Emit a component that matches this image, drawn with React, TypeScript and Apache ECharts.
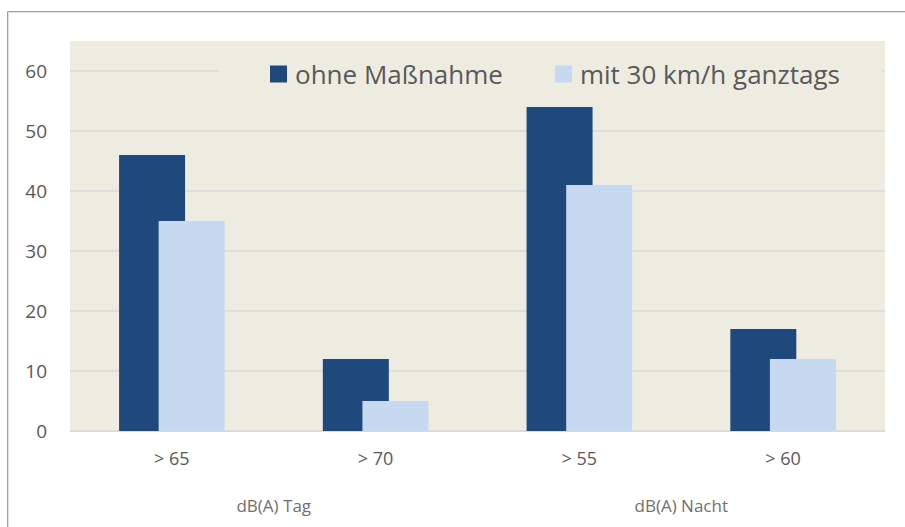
import React, { useEffect, useRef } from "react";
import * as echarts from "echarts";

const categories = ["> 65", "> 70", "> 55", "> 60"];
const groups = ["dB(A) Tag", "dB(A) Nacht"];
const ohneMassnahme = [46, 12, 54, 17];
const mit30 = [35, 5, 41, 12];
const seriesNames = ["ohne Maßnahme", "mit 30 km/h ganztags"];

const FONT = "'Open Sans', sans-serif";

export default function App() {
  const ref = useRef<HTMLDivElement>(null);
  useEffect(() => {
    if (!ref.current) return;
    const chart = echarts.init(ref.current, undefined, { renderer: "svg" });
    chart.setOption({
      animation: false,
      backgroundColor: "#ffffff",
      textStyle: { fontFamily: FONT },
      grid: { left: 70, right: 20, top: 71, bottom: 96 },
      graphic: [
        {
          type: "rect",
          z: -10,
          silent: true,
          shape: { x: 70, y: 41, width: 815, height: 390 },
          style: { fill: "#EEECE1" },
        },
        {
          type: "rect",
          z: -10,
          silent: true,
          shape: { x: 7.5, y: 11.5, width: 1000, height: 1000 },
          style: { fill: "none", stroke: "#a0a0a0", lineWidth: 1 },
        },
        {
          type: "rect",
          z: -10,
          silent: true,
          shape: { x: 8.5, y: 12.5, width: 1000, height: 1000 },
          style: { fill: "none", stroke: "#e0e0e0", lineWidth: 1 },
        },
      ],
      legend: {
        left: 219,
        top: 51,
        padding: [8, 42, 8, 51],
        backgroundColor: "#EEECE1",
        itemWidth: 17,
        itemHeight: 17,
        itemGap: 52,
        icon: "rect",
        textStyle: {
          fontFamily: FONT,
          fontSize: 26,
          color: "#595959",
          lineHeight: 30,
          padding: [0, 0, 0, 3],
        },
        data: seriesNames,
      },
      xAxis: [
        {
          type: "category",
          data: categories,
          axisLine: { show: true, lineStyle: { color: "#D9D9D9", width: 1 } },
          axisTick: { show: false },
          axisLabel: { fontFamily: FONT, fontSize: 18, color: "#595959", margin: 18 },
        },
        {
          type: "category",
          data: groups,
          position: "bottom",
          offset: 52,
          axisLine: { show: false },
          axisTick: { show: false },
          axisLabel: { fontFamily: FONT, fontSize: 17, color: "#6f6f6f", margin: 14 },
        },
      ],
      yAxis: {
        type: "value",
        min: 0,
        max: 60,
        interval: 10,
        axisLine: { show: false },
        axisTick: { show: false },
        axisLabel: { fontFamily: FONT, fontSize: 19, color: "#595959", margin: 23 },
        splitLine: { lineStyle: { color: "#D9D9D9", width: 1.5 } },
      },
      series: [
        {
          name: seriesNames[0],
          type: "bar",
          data: ohneMassnahme,
          barWidth: 66,
          barGap: "-40%",
          itemStyle: { color: "#1F497D" },
        },
        {
          name: seriesNames[1],
          type: "bar",
          data: mit30,
          barWidth: 66,
          barGap: "-40%",
          itemStyle: { color: "#C6D9F1" },
        },
      ],
    });
    return () => chart.dispose();
  }, []);
  return (
    <div
      ref={ref}
      style={{ position: "absolute", left: 0, top: 0, width: 905, height: 527 }}
    />
  );
}
